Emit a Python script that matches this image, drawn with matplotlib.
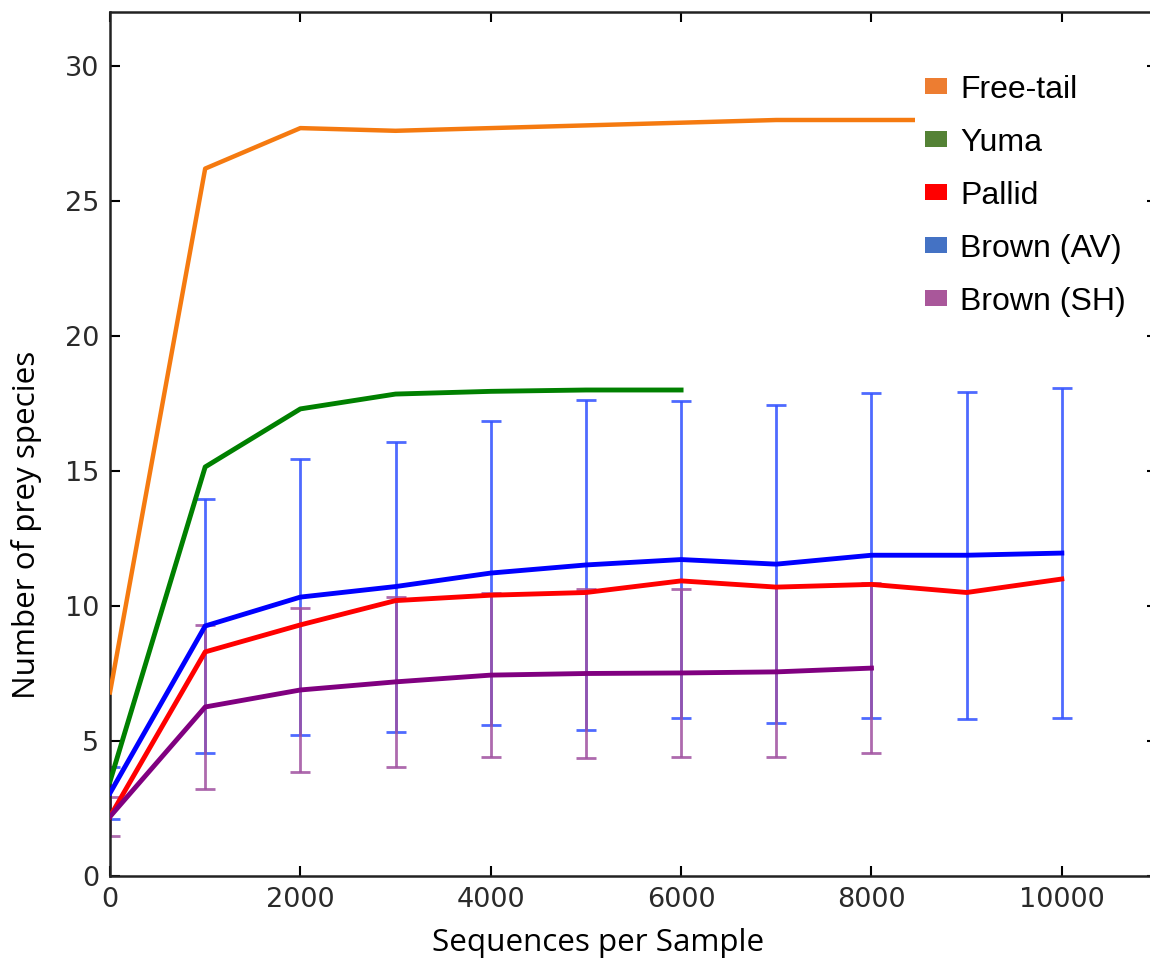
import numpy as np
import matplotlib
matplotlib.use("Agg")
import matplotlib.pyplot as plt
from matplotlib.patches import Patch

# rarefaction data
seqs = [0, 1000, 2000, 3000, 4000, 5000, 6000, 7000, 8000, 9000, 10000]

free_tail = [6.8, 26.2, 27.7, 27.6, 27.7, 27.8, 27.9, 28.0, 28.0, 28.0, 28.0]
yuma = [3.5, 15.15, 17.3, 17.85, 17.95, 18.0, 18.0]
pallid = [2.2, 8.3, 9.3, 10.2, 10.4, 10.5, 10.93, 10.7, 10.8, 10.5, 11.0]
brown_av = [3.07, 9.26, 10.33, 10.72, 11.22, 11.52, 11.72, 11.55, 11.88, 11.88, 11.96]
brown_av_err = [0.95, 4.7, 5.1, 5.37, 5.62, 6.12, 5.88, 5.9, 6.02, 6.05, 6.12]
brown_sh = [2.2, 6.26, 6.89, 7.19, 7.44, 7.5, 7.52, 7.56, 7.7]
brown_sh_err = [0.72, 3.05, 3.05, 3.15, 3.05, 3.12, 3.12, 3.14, 3.16]

legend_names = ["Free-tail", "Yuma", "Pallid", "Brown (AV)", "Brown (SH)"]
legend_colors = ["#ED7D31", "#548235", "#FF0000", "#4472C4", "#A9579A"]

fig = plt.figure(figsize=(11.5, 9.67), dpi=100)
ax = fig.add_axes([110 / 1150, 91 / 967, 1047 / 1150, 864 / 967])

# error bars first, lines on top
ax.errorbar(seqs, brown_av, yerr=brown_av_err, fmt="none", ecolor="#3050ff",
            elinewidth=2, capsize=7, capthick=2, alpha=0.85, zorder=2)
ax.errorbar(seqs[:len(brown_sh)], brown_sh, yerr=brown_sh_err, fmt="none",
            ecolor="#a050a0", elinewidth=2, capsize=7, capthick=2, alpha=0.85, zorder=2)

ax.plot(seqs, free_tail, color="#f57a10", lw=3.2, zorder=3)
ax.plot(seqs[:len(yuma)], yuma, color="#008000", lw=3.5, zorder=3)
ax.plot(seqs, brown_av, color="#0000ff", lw=3.5, zorder=3)
ax.plot(seqs, pallid, color="#ff0000", lw=3.5, zorder=3)
ax.plot(seqs[:len(brown_sh)], brown_sh, color="#800080", lw=3.5, zorder=3)

ax.set_xlim(0, 11000)
ax.set_ylim(0, 32)
ax.set_xticks(range(0, 10001, 2000))
ax.set_yticks(range(0, 31, 5))
ax.tick_params(direction="in", length=7, width=1.5, top=True, right=True,
               labelsize=19.5, labelcolor="#2a2a2a", pad=8)
for sp in ax.spines.values():
    sp.set_linewidth(1.8)
    sp.set_color("#222222")

ax.set_xlabel("Sequences per Sample", fontsize=22.6, family="Open Sans")
ax.set_ylabel("Number of prey species", fontsize=22.6, family="Open Sans")
ax.xaxis.set_label_coords((598 - 110) / 1047, -(943 - 876) / 864, transform=ax.transAxes)
ax.yaxis.set_label_coords(-(110 - 27) / 1047, (876 - 525) / 864, transform=ax.transAxes)
ax.xaxis.label.set_va("center")
ax.yaxis.label.set_va("center")

handles = [Patch(facecolor=c, edgecolor="none") for c in legend_colors]
leg = ax.legend(handles, legend_names, loc="upper left",
                bbox_to_anchor=(0.754, 1 - 37 / 864),
                prop={"family": "Liberation Sans", "size": 23},
                handlelength=0.7, handleheight=0.38, handletextpad=0.4,
                labelspacing=0.72, borderpad=0.3, frameon=True, fancybox=False)
leg.get_frame().set_edgecolor("none")
leg.get_frame().set_facecolor("white")
leg.get_frame().set_alpha(1)
leg.set_zorder(5)

fig.savefig("out.png", dpi=100)
